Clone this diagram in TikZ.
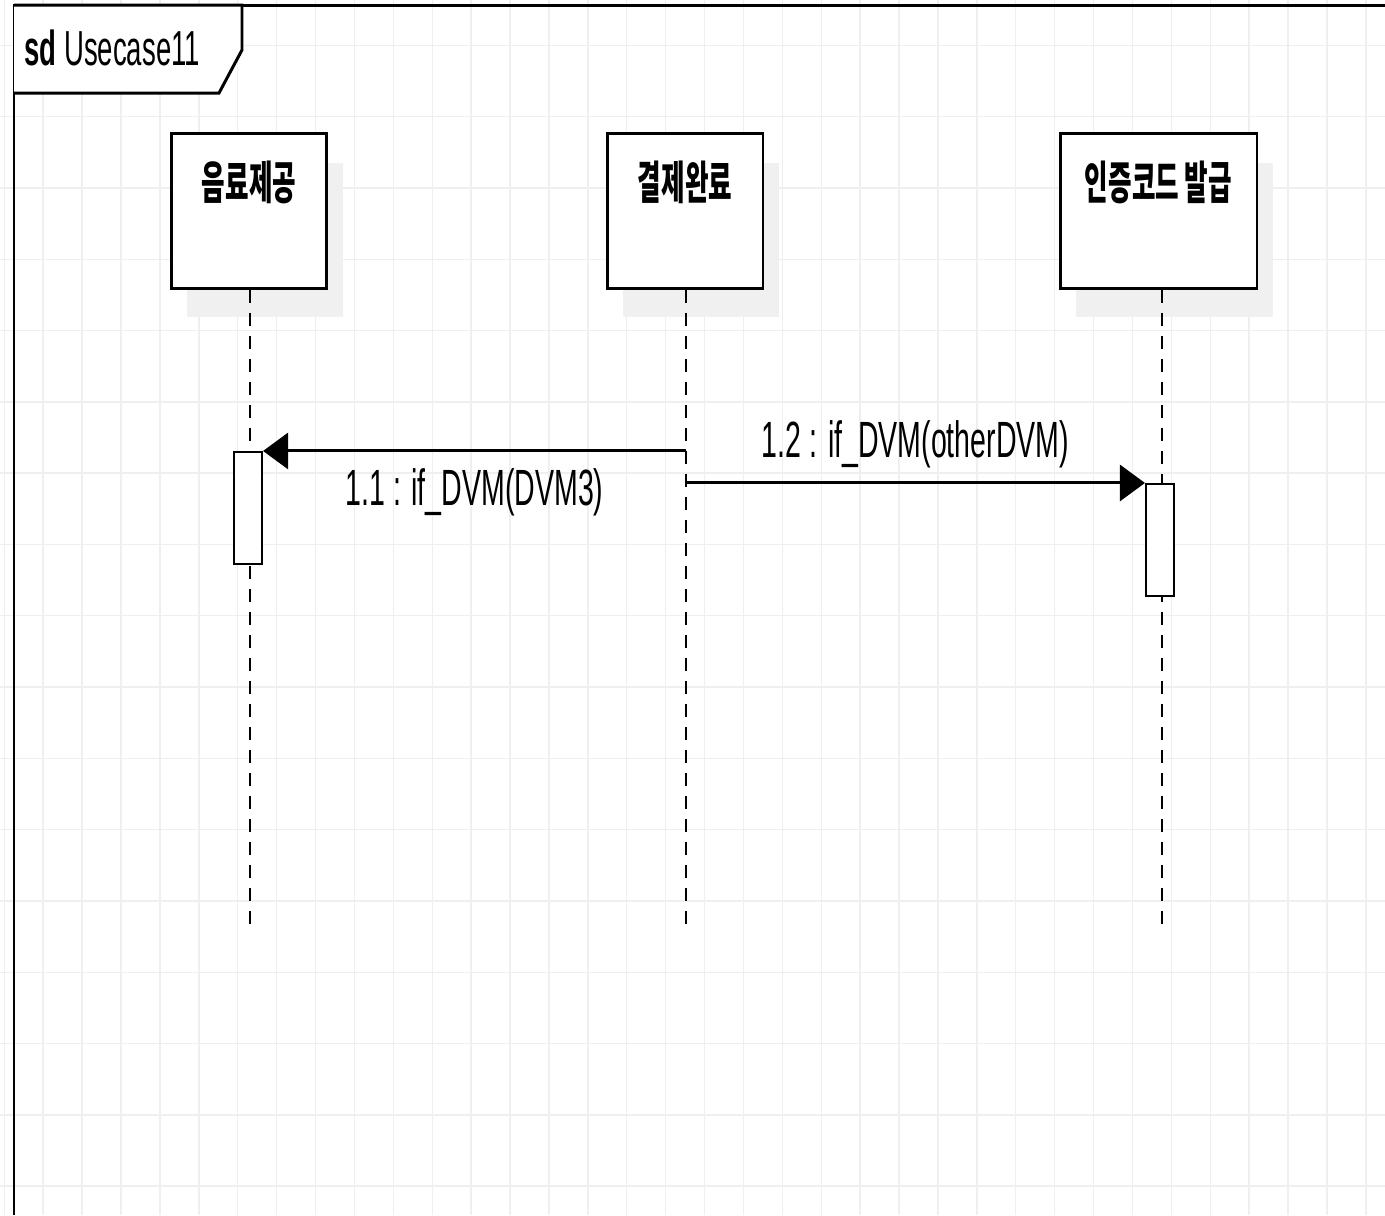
\documentclass[tikz,border=0pt]{standalone}
\usepackage{fontspec}
\setmainfont{Liberation Sans}[FakeStretch=0.56]
\newfontfamily\krfont{Noto Sans CJK KR}[FakeStretch=0.56]
\usetikzlibrary{arrows.meta,positioning,calc,shadows}
\definecolor{gridline}{HTML}{EFEFEF}
\definecolor{shadowgray}{HTML}{F0F0F0}

\begin{document}
\begin{tikzpicture}[x=0.02cm, y=-0.02cm,
  lifehead/.style={draw, line width=1.7pt, fill=white, minimum width=3.12cm, minimum height=3.1cm, inner sep=0pt,
    general shadow={fill=shadowgray, shadow xshift=0.32cm, shadow yshift=-0.58cm}},
  headtext/.style={font=\krfont\bfseries\fontsize{26}{30}\selectfont},
  lifeline/.style={line width=1.1pt, dash pattern=on 0.26cm off 0.2cm},
  activation/.style={draw, line width=1.2pt, fill=white, minimum width=0.56cm, minimum height=2.24cm, inner sep=0pt},
  msg/.style={line width=1.7pt, -{Triangle[length=0.5cm, width=0.72cm]}},
  msgtext/.style={font=\fontsize{29}{34}\selectfont, inner sep=0pt}]
  \useasboundingbox (0,0) rectangle (1385,1215);

  % background grid
  \foreach \gx in {0,...,35}
    \draw[gridline, line width=0.8pt] ({4.3+38.9*\gx},0) -- ++(0,1215);
  \foreach \gy in {1,...,17}
    \draw[gridline, line width=0.8pt] (0,{-26+71.3*\gy}) -- ++(1385,0);

  % frame and its title
  \draw[line width=1.7pt] (1385,5) -- (14,5) -- (14,1215);
  \draw[line width=1.7pt, fill=white] (14,5) -- (242,5) -- (242,50) -- (219,93) -- (14,93);
  \node[font=\fontsize{28}{32}\selectfont, anchor=west, inner sep=0pt] (title) at (24,48) {\textbf{sd} Usecase11};

  % lifeline heads
  \node[lifehead] (drink) at (249,211) {};
  \node[headtext] (drinkname) at (249,182) {음료제공};
  \node[lifehead] (pay) at (685,211) {};
  \node[headtext] (payname) at (685,182) {결제완료};
  \node[lifehead, minimum width=3.94cm] (code) at (1158.5,211) {};
  \node[headtext] (codename) at (1158.5,182) {인증코드 발급};

  % lifelines
  \coordinate (drinkend) at (250,925);
  \coordinate (payend) at (686,925);
  \coordinate (codeend) at (1162,925);
  \draw[lifeline] (drink.south -| drinkend) -- (drinkend);
  \draw[lifeline] (pay.south -| payend) -- (payend);
  \draw[lifeline] (code.south -| codeend) -- (codeend);

  % activations
  \node[activation] (drinkact) at (248,508) {};
  \node[activation] (codeact) at (1160,540) {};

  % messages
  \draw[msg] (drinkact.north east -| payend) -- (drinkact.north east)
    node[msgtext, midway, anchor=base, yshift=-1.1cm] (m11) {1.1 : if\_DVM(DVM3)};
  \draw[msg] (codeact.north west -| payend) -- (codeact.north west)
    node[msgtext, midway, anchor=base, yshift=0.5cm] (m12) {1.2 : if\_DVM(otherDVM)};
\end{tikzpicture}
\end{document}
